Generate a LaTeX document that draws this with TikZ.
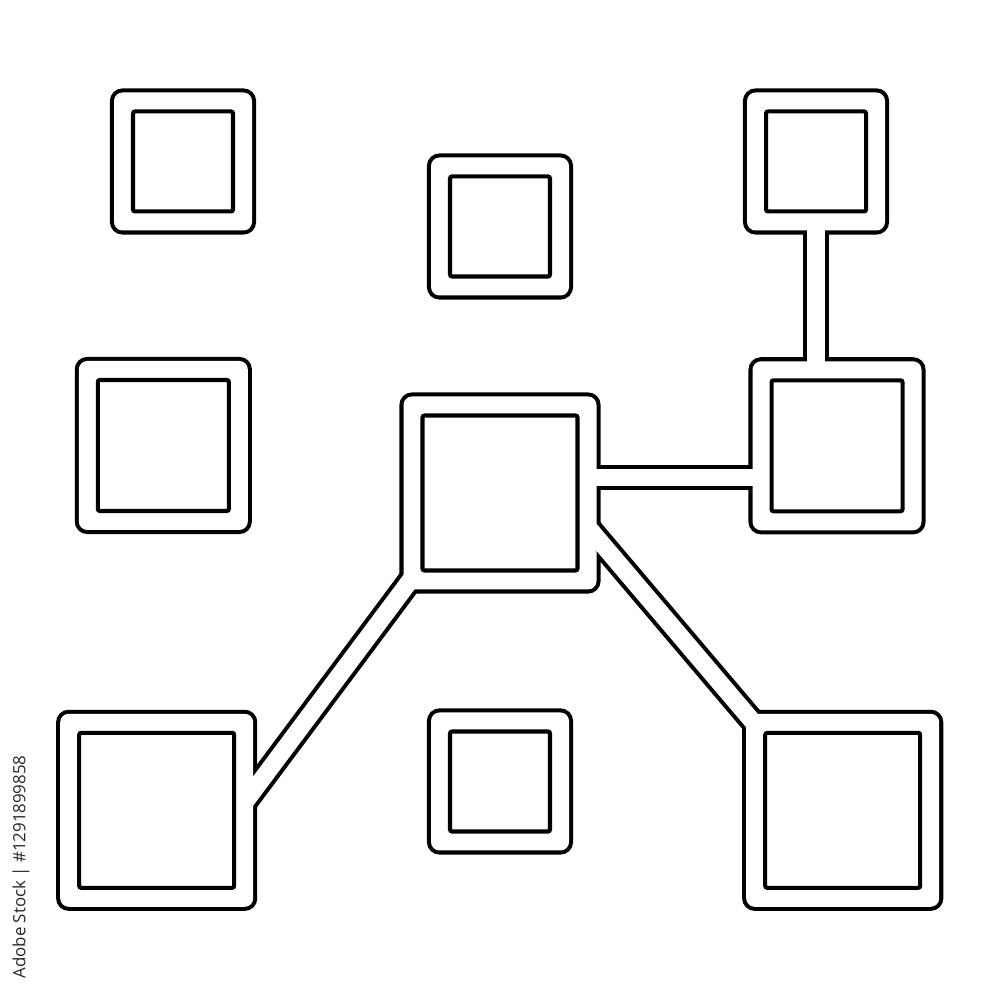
\documentclass[tikz,border=0pt]{standalone}
\usepackage{fontspec}
\newfontfamily\stockfont{Open Sans}
\usetikzlibrary{calc}
\tikzset{
  box/.style={rectangle, draw=black, fill=black, line width=2.3pt, outer sep=0pt, rounded corners=0.085cm},
  smallbox/.style={box, minimum size=1.38cm},
  midbox/.style={box, minimum size=1.69cm},
  bigbox/.style={box, minimum size=1.93cm},
  bar/.style={draw=black, line width=1.15pt, double=white, double distance=0.175cm, shorten <=-0.3cm, shorten >=-0.3cm},
  hole/.style={fill=white, rounded corners=0.085cm},
  innerbox/.style={draw=black, line width=1.15pt, rounded corners=0.02cm},
  stocktag/.style={rotate=90, inner sep=0pt, text=black!85, font=\stockfont\fontsize{4.8pt}{5pt}\selectfont}
}
\begin{document}
\begin{tikzpicture}
  \useasboundingbox (0,0) rectangle (10,10);

  \node[smallbox] (tl) at (1.83, 8.385) {};
  \node[smallbox] (tm) at (5.00, 7.735) {};
  \node[smallbox] (tr) at (8.16, 8.385) {};
  \node[midbox] (ml) at (1.633, 5.545) {};
  \node[bigbox] (c) at (5.00, 5.07) {};
  \node[midbox] (mr) at (8.37, 5.542) {};
  \node[bigbox] (bl) at (1.567, 1.897) {};
  \node[smallbox] (bm) at (5.00, 2.185) {};
  \node[bigbox] (br) at (8.427, 1.897) {};

  \coordinate (hc) at ($(c.north east)!0.42!(c.south east)$);
  \coordinate (dc) at ($(c.north east)!0.73!(c.south east)$);
  \coordinate (dbl) at ($(bl.north east)!0.4!(bl.south east)$);

  \draw[bar] (tr.south) -- (tr.south |- mr.north);
  \draw[bar] (hc) -- (hc -| mr.west);
  \draw[bar] (c.south west) -- (dbl);
  \draw[bar] (dc) -- (br.north west);

  \foreach \n in {tl,tm,tr,ml,c,mr,bl,bm,br} {
    \fill[hole] (\n.south west) rectangle (\n.north east);
    \draw[innerbox] ($(\n.south west)+(0.19,0.19)$) rectangle ($(\n.north east)-(0.19,0.19)$);
  }

  \node[stocktag] (stock) at (0.21, 1.33) {Adobe Stock | \#1291899858};
\end{tikzpicture}
\end{document}
